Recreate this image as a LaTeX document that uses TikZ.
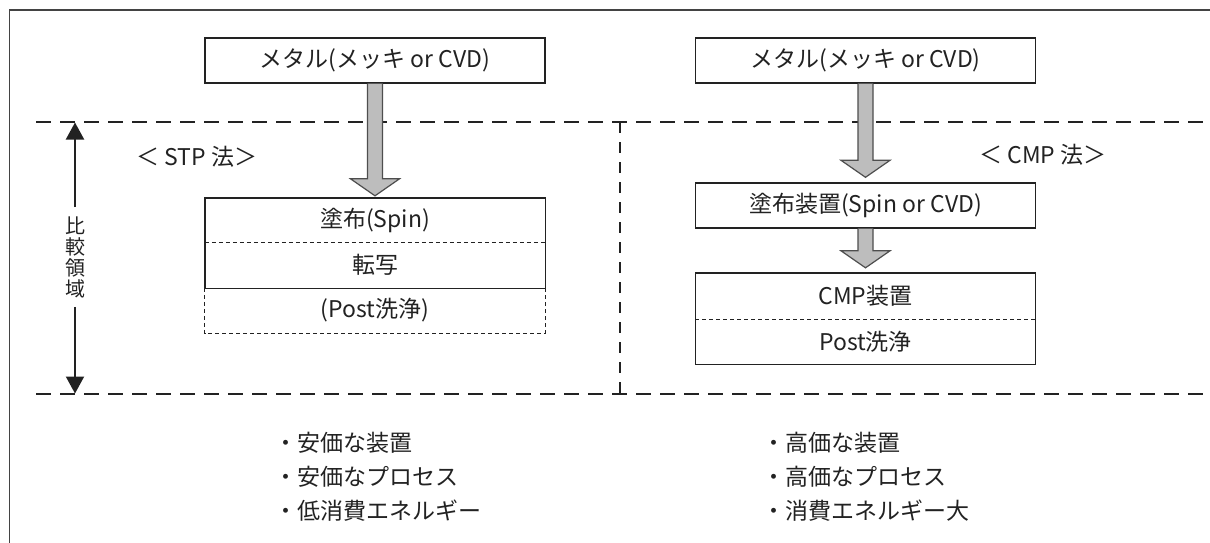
\documentclass[tikz,border=0pt]{standalone}
\usepackage{fontspec}
\setmainfont{Noto Sans CJK JP}
\usetikzlibrary{calc,arrows.meta}
\definecolor{ink}{HTML}{222222}
\definecolor{arrgray}{HTML}{BDBDBD}
\tikzset{
  txt/.style={font=\fontsize{23}{27}\selectfont, text=ink, inner sep=0pt},
  box/.style={txt, draw=ink, line width=1.4pt, minimum width=340pt, minimum height=45pt},
  rowbox/.style={txt, minimum width=340pt, minimum height=45pt},
  thindash/.style={draw=ink, line width=1pt, dash pattern=on 4pt off 3pt},
  bigdash/.style={draw=ink, line width=2.6pt, dash pattern=on 15pt off 9pt},
  vdash/.style={draw=ink, line width=2.4pt, dash pattern=on 11pt off 9pt},
  garrow/.style={fill=arrgray, draw=ink!80, line width=1.2pt, line join=miter},
  blackarr/.style={draw=ink, line width=2pt, -{Triangle[width=18pt,length=17pt]}},
  frameline/.style={draw=ink!85, line width=1.5pt},
  bullet/.style={txt, anchor=west},
}
\newcommand{\gArrow}[2]{%
  \filldraw[garrow] ($(#1)+(-7.5,0)$) -- ($(#2)+(-7.5,-17)$) -- ($(#2)+(-24.5,-17)$) -- (#2)
     -- ($(#2)+(24.5,-17)$) -- ($(#2)+(7.5,-17)$) -- ($(#1)+(7.5,0)$);}
\begin{document}
\begin{tikzpicture}[x=1pt,y=-1pt]
\useasboundingbox (0,0) rectangle (1210,543);
\fill[white] (0,0) rectangle (1210,543);
% frame
\draw[frameline] (1210,10) -- (9.5,10) -- (9.5,543);
% dashed region lines
\coordinate (dTL) at (36,122);
\coordinate (dTR) at (1210,122);
\coordinate (dBL) at (36,394);
\coordinate (dBR) at (1210,394);
\coordinate (vT) at (620,122);
\coordinate (vB) at (620,394);
\draw[bigdash] (dTL) -- (dTR);
\draw[bigdash] (dBL) -- (dBR);
\draw[vdash] (vT) -- (vB);
% left comparison arrow
\node[txt, font=\fontsize{20}{21}\selectfont, align=center, inner ysep=9pt] (cmpl) at (75,257) {比\\較\\領\\域};
\coordinate (aTop) at (75,122.5);
\coordinate (aBot) at (75,393.5);
\draw[blackarr] (cmpl.north) -- (aTop);
\draw[blackarr] (cmpl.south) -- (aBot);
% labels
\node[txt] (stp) at (197,157) {＜ STP 法＞};
\node[txt] (cmp) at (1043,155) {＜ CMP 法＞};
% left column
\node[box] (mtL) at (375,60.5) {メタル(メッキ or CVD)};
\node[rowbox, minimum height=44pt] (stA) at (375,220) {塗布(Spin)};
\node[rowbox, minimum height=46pt] (stB) at (375,265) {転写};
\node[rowbox] (stC) at (375,310.5) {(Post洗浄)};
\draw[draw=ink, line width=1.4pt] (stA.north west) rectangle (stB.south east);
\draw[thindash] (stA.south west) -- (stA.south east);
\draw[thindash] (stC.north west) -- (stC.south west) -- (stC.south east) -- (stC.north east);
\coordinate (tipL) at ($(stA.north)+(0,-2)$);
\gArrow{mtL.south}{tipL}
% right column
\node[box] (mtR) at (865.5,60.5) {メタル(メッキ or CVD)};
\node[box] (coat) at (865.5,205.5) {塗布装置(Spin or CVD)};
\node[rowbox, minimum height=46pt] (cmA) at (865.5,296) {CMP装置};
\node[rowbox] (cmB) at (865.5,341.5) {Post洗浄};
\draw[draw=ink, line width=1.4pt] (cmA.north west) rectangle (cmB.south east);
\draw[thindash] (cmA.south west) -- (cmA.south east);
\coordinate (tipR1) at ($(coat.north)+(0,-5)$);
\coordinate (tipR2) at ($(cmA.north)+(0,-5)$);
\gArrow{mtR.south}{tipR1}
\gArrow{coat.south}{tipR2}
% bullet lists
\node[bullet] (l1) at (274,443) {・安価な装置};
\node[bullet] (l2) at (274,477) {・安価なプロセス};
\node[bullet] (l3) at (274,511) {・低消費エネルギー};
\node[bullet] (r1) at (762,443) {・高価な装置};
\node[bullet] (r2) at (762,477) {・高価なプロセス};
\node[bullet] (r3) at (762,511) {・消費エネルギー大};
\end{tikzpicture}
\end{document}
